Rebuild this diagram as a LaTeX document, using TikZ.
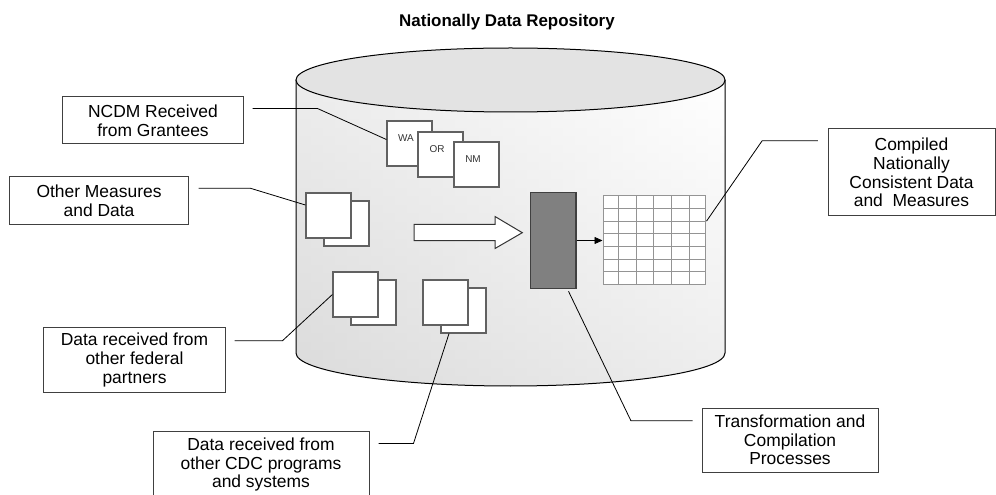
\documentclass[tikz,border=0pt]{standalone}
\usepackage{fontspec}
\setmainfont{Liberation Sans}
\usetikzlibrary{calc,arrows.meta}
\begin{document}
\begin{tikzpicture}[x=1bp,y=-1bp,
  conn/.style={draw=black,line width=0.8bp},
  lbl/.style={draw=black!75,line width=1bp,fill=white,align=center,inner sep=0pt,
    font=\fontsize{17.5}{18.7}\selectfont},
  doc/.style={draw=black!62,line width=1.2bp,fill=white,minimum size=45bp,inner sep=0pt},
  tag/.style={font=\fontsize{10}{12}\selectfont,text=black!80,inner sep=0pt},
  gridline/.style={draw=black!42,line width=1bp},
  body/.style={insert path={(296,80) -- (296,353)
    .. controls (296,371.2) and (392,386) .. (510.5,386)
    .. controls (629,386) and (725,371.2) .. (725,353) -- (725,80)}}]
\clip (0,0) rectangle (996,495);

% title
\node[font=\fontsize{17}{20}\selectfont\bfseries,anchor=base] (title) at (507,27) {Nationally Data Repository};

% repository cylinder: body tinted from the upper left (the y axis points down,
% so the shading's "bottom" colour lands at the top), then the top face
\shade[top color=white,bottom color=black!14] [body] -- cycle;
\shade[left color=black!14,right color=white,opacity=0.5] [body] -- cycle;
\draw[line width=1bp] [body];
\draw[line width=1bp,fill=black!11] (510.5,80) ellipse [x radius=214.5,y radius=32];

% grantee documents
\node[doc] (wa) at (409.5,143.5) {};
\node[doc] (or) at (440.5,154.5) {};
\node[doc] (nm) at (476.5,164.5) {};
\node[tag] (watag) at ($(wa)+(-3.5,-5.5)$) {WA};
\node[tag] (ortag) at ($(or)+(-3.5,-5.5)$) {OR};
\node[tag] (nmtag) at ($(nm)+(-3.5,-5.5)$) {NM};

% document pairs
\node[doc] (othB) at (346.5,223.5) {};
\node[doc] (othF) at (328.5,215.5) {};
\node[doc] (fedB) at (373.5,302.5) {};
\node[doc] (fedF) at (355.5,294.5) {};
\node[doc] (cdcB) at (463.5,310.5) {};
\node[doc] (cdcF) at (445.5,302.5) {};

% block arrow
\draw[draw=black!80,fill=white,line width=1bp]
  (414,224.3) -- (495,224.3) -- (495,216.5) -- (522.3,232.7)
  -- (495,248.5) -- (495,240.7) -- (414,240.7) -- cycle;

% processing block
\node[draw=black!75,fill=black!50,line width=1.2bp,minimum width=45.3bp,
  minimum height=96bp,inner sep=0pt] (proc) at (553.3,240.5) {};

% compiled table
\node[draw=black!42,fill=white,line width=1bp,minimum width=102bp,
  minimum height=88.3bp,inner sep=0pt] (grid) at (654,240.15) {};
\foreach \gx in {618.5,636,653.5,671,689}
  \draw[gridline] (\gx,196) -- (\gx,284.3);
\foreach \gy in {208.7,221.3,234,246.7,259.3,272}
  \draw[gridline] (603,\gy) -- (705,\gy);

\draw[line width=0.8bp,-{Triangle[length=8bp,width=7bp]}] (proc.east) -- (proc.east -| grid.west);

% callout boxes
\node[lbl,minimum width=180bp,minimum height=47bp] (ncdm) at (153,120.5) {NCDM Received\\from Grantees};
\node[lbl,minimum width=178bp,minimum height=48bp] (other) at (99,201) {Other Measures\\and Data};
\node[lbl,minimum width=181bp,minimum height=64bp] (fed) at (134.5,360) {Data received from\\other federal\\partners};
\node[lbl,minimum width=216bp,minimum height=66bp] (cdc) at (261,464.8) {Data received from\\other CDC programs\\and systems};
\node[lbl,minimum width=176bp,minimum height=64bp] (trans) at (790,440) {Transformation and\\Compilation\\Processes};
\node[lbl,minimum width=167bp,minimum height=87bp] (comp) at (911.5,172.5) {Compiled\\Nationally\\Consistent Data\\and\ \ Measures};

% callout leaders
\draw[conn] ($(ncdm.east)+(9,-12)$) -- ++(65,0) -- ($(wa.west)+(0,-4)$);
\draw[conn] ($(other.east)+(10,-12.7)$) -- ++(52,0) -- ($(othF.west)+(0,-10.5)$);
\draw[conn] ($(fed.east)+(9,-19.3)$) -- ++(48,0) -- (fedF.west);
\draw[conn] ($(cdc.east)+(9,-21.4)$) -- ++(35,0) -- ($(cdcB.south)+(-14.5,0)$);
\draw[conn] ($(trans.west)+(-9,-19.3)$) -- ++(-61.6,0) -- ($(proc.south)+(15.2,2.2)$);
\draw[conn] ($(comp.west)+(-9.7,-31.8)$) -- ++(-55.6,0) -- ($(grid.east)+(1,-19)$);
\end{tikzpicture}
\end{document}
